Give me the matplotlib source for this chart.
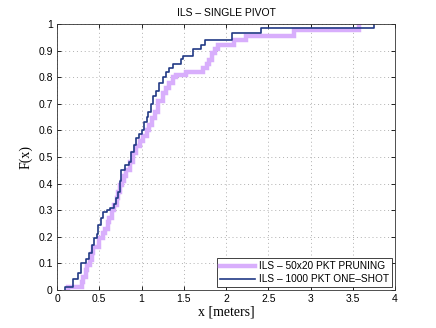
import numpy as np
import matplotlib
matplotlib.use("Agg")
import matplotlib.pyplot as plt

# ILS - 1000 PKT ONE-SHOT (dark blue)
oneshot_x = [0.09, 0.19, 0.245, 0.28, 0.34, 0.38, 0.41, 0.44, 0.47, 0.49, 0.52, 0.54,
             0.59, 0.63, 0.67, 0.70, 0.72, 0.74, 0.76, 0.80, 0.85, 0.88, 0.91, 0.94,
             0.97, 1.00, 1.03, 1.06, 1.08, 1.11, 1.14, 1.17, 1.21, 1.25, 1.29, 1.32,
             1.375, 1.47, 1.49, 1.61, 1.71, 1.75, 2.07, 2.41, 3.75]
oneshot_y = [0.012, 0.04, 0.065, 0.103, 0.118, 0.14, 0.17, 0.194, 0.21, 0.244, 0.27, 0.294,
             0.30, 0.31, 0.325, 0.345, 0.37, 0.41, 0.45, 0.47, 0.48, 0.52, 0.545, 0.57,
             0.585, 0.60, 0.63, 0.65, 0.67, 0.70, 0.73, 0.75, 0.78, 0.80, 0.82, 0.836,
             0.85, 0.868, 0.88, 0.906, 0.922, 0.94, 0.967, 0.984, 1.0]

# ILS - 50x20 PKT PRUNING (light violet)
pruning_x = [0.13, 0.29, 0.31, 0.34, 0.36, 0.39, 0.41, 0.43, 0.50, 0.54, 0.57, 0.60,
             0.62, 0.645, 0.68, 0.705, 0.725, 0.745, 0.765, 0.79, 0.82, 0.86, 0.90, 0.94,
             0.98, 1.02, 1.06, 1.09, 1.12, 1.16, 1.20, 1.25, 1.29, 1.33, 1.37, 1.41,
             1.53, 1.73, 1.77, 1.80, 1.84, 1.87, 1.91, 2.10, 2.24, 2.80, 3.57]
pruning_y = [0.012, 0.031, 0.05, 0.075, 0.094, 0.113, 0.138, 0.163, 0.194, 0.213, 0.23, 0.256,
             0.27, 0.30, 0.32, 0.345, 0.37, 0.395, 0.41, 0.43, 0.45, 0.48, 0.514, 0.54,
             0.56, 0.58, 0.60, 0.62, 0.645, 0.67, 0.71, 0.74, 0.76, 0.78, 0.80, 0.81,
             0.82, 0.836, 0.85, 0.865, 0.89, 0.906, 0.922, 0.94, 0.956, 0.977, 1.0]

xticks = [0, 0.5, 1, 1.5, 2, 2.5, 3, 3.5, 4]
xtick_labels = ["0", "0.5", "1", "1.5", "2", "2.5", "3", "3.5", "4"]
yticks = [0, 0.1, 0.2, 0.3, 0.4, 0.5, 0.6, 0.7, 0.8, 0.9, 1]
ytick_labels = ["0", "0.1", "0.2", "0.3", "0.4", "0.5", "0.6", "0.7", "0.8", "0.9", "1"]

plt.rcParams['font.family'] = ['Liberation Sans', 'DejaVu Sans']

fig = plt.figure(figsize=(4.36, 3.28), dpi=100)
ax = fig.add_axes([57/436, 38/328, (395-57)/436, (290-24)/328])

def steps(x, y):
    xs = np.r_[x[0], x]
    ys = np.r_[0.0, y]
    return xs, ys

px, py = steps(pruning_x, pruning_y)
bx, by = steps(oneshot_x, oneshot_y)
ax.plot(px, py, drawstyle='steps-post', color='#d8aefc', lw=3.2,
        label='ILS \u2013 50x20 PKT PRUNING', solid_joinstyle='miter')
ax.plot(bx, by, drawstyle='steps-post', color='#213a85', lw=1.2,
        label='ILS \u2013 1000 PKT ONE\u2013SHOT')

ax.set_xlim(0, 4)
ax.set_ylim(0, 1)
ax.set_xticks(xticks)
ax.set_xticklabels(xtick_labels)
ax.set_yticks(yticks)
ax.set_yticklabels(ytick_labels)
ax.tick_params(direction='in', top=True, right=True, labelsize=7.5, length=3, width=0.6, pad=3)
ax.grid(True, linestyle=(0, (1, 3)), color='#b0b0b0', linewidth=0.7)
for s in ax.spines.values():
    s.set_linewidth(0.6)
    s.set_color('#333333')

ax.set_title('ILS \u2013 SINGLE PIVOT', fontsize=7.5, pad=6)
ax.set_xlabel('x [meters]', family='Liberation Serif', fontsize=10, labelpad=1)
ax.set_ylabel('F(x)', family='Liberation Serif', fontsize=10, labelpad=4)

leg = ax.legend(loc='lower right', fontsize=7.3, fancybox=False, framealpha=1,
                edgecolor='#222222', borderaxespad=0.25, handlelength=3.5,
                borderpad=0.3, labelspacing=0.3, handletextpad=0.4)
leg.get_frame().set_linewidth(0.6)

fig.savefig('out.png', dpi=100)
